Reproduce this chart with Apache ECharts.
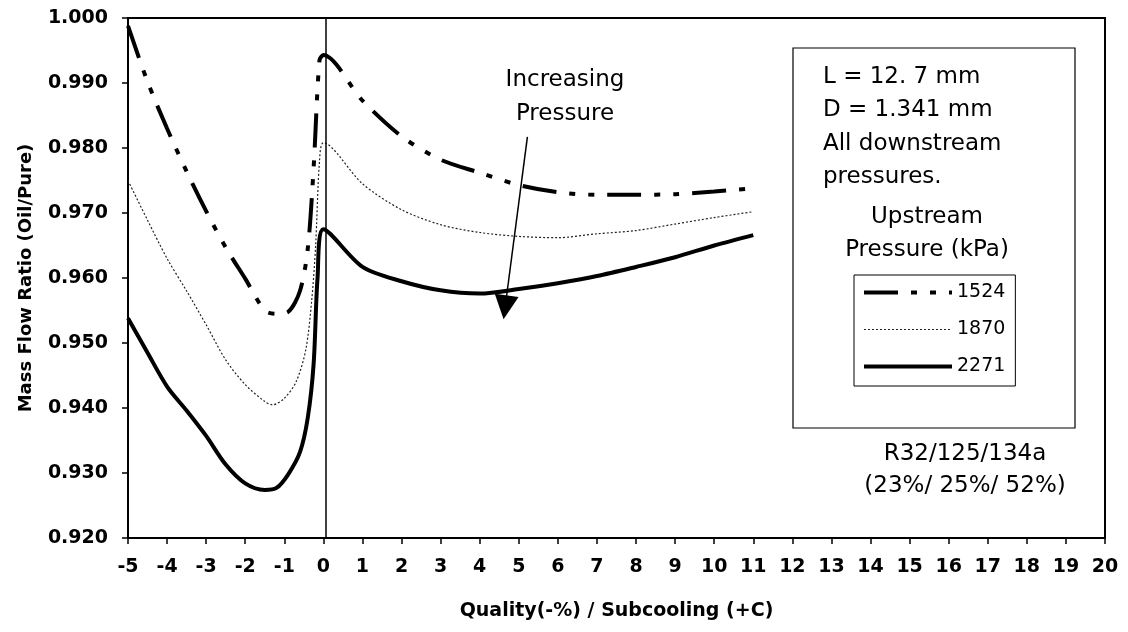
<!DOCTYPE html>
<html>
<head>
<meta charset="utf-8">
<script src="https://cdn.jsdelivr.net/npm/echarts@6/dist/echarts.min.js"></script>
<style>
html, body { margin: 0; padding: 0; background: #fff; }
#main { width: 1128px; height: 632px; }
</style>
</head>
<body>
<div id="main"></div>
<script>
// negative x = quality (%), positive x = subcooling (C)
var x1524 = [-5, -4.5, -4, -3.5, -3, -2.5, -2, -1.5, -1.2, -0.9, -0.6, -0.4, -0.25, -0.1, 0, 1, 2, 3, 4, 5, 6, 7, 8, 9, 10, 11];
var y1524 = [0.9988, 0.9902, 0.9830, 0.9764, 0.9703, 0.9647, 0.9599, 0.9550, 0.9545, 0.9548, 0.9580, 0.9645, 0.9770, 0.9935, 0.9943,
             0.9873, 0.9818, 0.9782, 0.9762, 0.9743, 0.9732, 0.9728, 0.9728, 0.9729, 0.9733, 0.9738];

var x1870 = [-5, -4.5, -4, -3.5, -3, -2.5, -2, -1.5, -1.3, -1, -0.7, -0.45, -0.3, -0.2, -0.1, 0, 1, 2, 3, 4, 5, 6, 7, 8, 9, 10, 11];
var y1870 = [0.9750, 0.9689, 0.9630, 0.9580, 0.9528, 0.9474, 0.9436, 0.9410, 0.9405, 0.9415, 0.9440, 0.9490, 0.9565, 0.9648, 0.9780, 0.9808,
             0.9745, 0.9705, 0.9682, 0.9670, 0.9664, 0.9662, 0.9668, 0.9673, 0.9683, 0.9693, 0.9702];

var x2271 = [-5, -4.5, -4, -3.5, -3, -2.5, -2, -1.5, -1.2, -0.9, -0.6, -0.4, -0.25, -0.15, 0, 1, 2, 3, 4, 5, 6, 7, 8, 9, 10, 11];
var y2271 = [0.9538, 0.9485, 0.9433, 0.9396, 0.9357, 0.9313, 0.9284, 0.9274, 0.9277, 0.9298, 0.9332, 0.9385, 0.9468, 0.9600, 0.9675,
             0.9617, 0.9595, 0.9581, 0.9576, 0.9583, 0.9592, 0.9603, 0.9617, 0.9632, 0.9650, 0.9666];

var pressures = ['1524', '1870', '2271'];

function pairs(xs, ys) {
    var out = [];
    for (var i = 0; i < xs.length; i++) out.push([xs[i], ys[i]]);
    return out;
}

var myChart = echarts.init(document.getElementById('main'));
var boldFont = 'DejaVu Sans';
var txt = '23px "DejaVu Sans"';

function label(x, y, text, align) {
    return {
        type: 'text', x: x, y: y, z: 5,
        style: { text: text, font: txt, fill: '#000', textAlign: align || 'left', textVerticalAlign: 'middle' }
    };
}

var option = {
    animation: false,
    backgroundColor: '#fff',
    grid: {
        left: 128, right: 23, top: 18, bottom: 94,
        show: true, borderColor: '#000', borderWidth: 2
    },
    legend: {
        data: [
            { name: pressures[0], lineStyle: { width: 4 } },
            { name: pressures[1], lineStyle: { width: 1.2 } },
            { name: pressures[2], lineStyle: { width: 4 } }
        ],
        orient: 'vertical',
        left: 854, top: 275,
        padding: [8, 10, 10, 8],
        itemWidth: 88, itemHeight: 20, itemGap: 18,
        borderColor: '#000', borderWidth: 1,
        itemStyle: { opacity: 0 },
        textStyle: { fontFamily: 'DejaVu Sans', fontSize: 19, color: '#000' }
    },
    xAxis: {
        type: 'value', min: -5, max: 20, interval: 1,
        name: 'Quality(-%) / Subcooling (+C)', nameLocation: 'middle', nameGap: 64,
        nameTextStyle: { fontFamily: boldFont, fontWeight: 'bold', fontSize: 19, color: '#000' },
        axisLine: { onZero: false, lineStyle: { color: '#000', width: 2 } },
        axisTick: { length: 6, lineStyle: { color: '#000', width: 1.5 } },
        axisLabel: { margin: 20, fontFamily: boldFont, fontWeight: 'bold', fontSize: 19, color: '#000' },
        splitLine: { show: false }
    },
    yAxis: {
        type: 'value', min: 0.92, max: 1.0, interval: 0.01,
        name: 'Mass Flow Ratio (Oil/Pure)', nameLocation: 'middle', nameGap: 93, nameRotate: 90,
        nameTextStyle: { fontFamily: boldFont, fontWeight: 'bold', fontSize: 18, color: '#000' },
        axisLine: { show: true, onZero: false, lineStyle: { color: '#000', width: 2 } },
        axisTick: { show: true, length: 6, lineStyle: { color: '#000', width: 1.5 } },
        axisLabel: {
            margin: 20, fontFamily: boldFont, fontWeight: 'bold', fontSize: 19, color: '#000',
            formatter: function (v) { return v.toFixed(3); }
        },
        splitLine: { show: false }
    },
    series: [
        {
            name: '1524', type: 'line', data: pairs(x1524, y1524),
            showSymbol: false, symbol: 'none', smooth: 0.3,
            lineStyle: { color: '#000', width: 4, type: [34, 13, 6, 13, 6, 13] },
            itemStyle: { color: '#000' }
        },
        {
            name: '1870', type: 'line', data: pairs(x1870, y1870),
            showSymbol: false, symbol: 'none', smooth: 0.3,
            lineStyle: { color: '#222', width: 1.2, type: [2, 2] },
            itemStyle: { color: '#222' }
        },
        {
            name: '2271', type: 'line', data: pairs(x2271, y2271),
            showSymbol: false, symbol: 'none', smooth: 0.3,
            lineStyle: { color: '#000', width: 4 },
            itemStyle: { color: '#000' },
            markLine: {
                silent: true, animation: false,
                symbol: ['none', 'none'],
                label: { show: false },
                lineStyle: { color: '#000', width: 1.5, type: 'solid' },
                data: [
                    { xAxis: 0.05 },
                    [
                        { coord: [5.22, 0.9817] },
                        { coord: [4.65, 0.9555], symbol: 'triangle', symbolSize: [24, 24] }
                    ]
                ]
            }
        }
    ],
    graphic: [
        { type: 'rect', shape: { x: 793, y: 48, width: 282, height: 380 },
          style: { fill: '#fff', stroke: '#000', lineWidth: 1.2 }, z: 1 },
        label(823, 77, 'L = 12. 7 mm'),
        label(823, 110, 'D = 1.341 mm'),
        label(823, 144, 'All downstream'),
        label(823, 177, 'pressures.'),
        label(927, 217, 'Upstream', 'center'),
        label(927, 250, 'Pressure (kPa)', 'center'),
        label(965, 454, 'R32/125/134a', 'center'),
        label(965, 486, '(23%/ 25%/ 52%)', 'center'),
        label(565, 80, 'Increasing', 'center'),
        label(565, 114, 'Pressure', 'center')
    ]
};
myChart.setOption(option);
</script>
</body>
</html>
